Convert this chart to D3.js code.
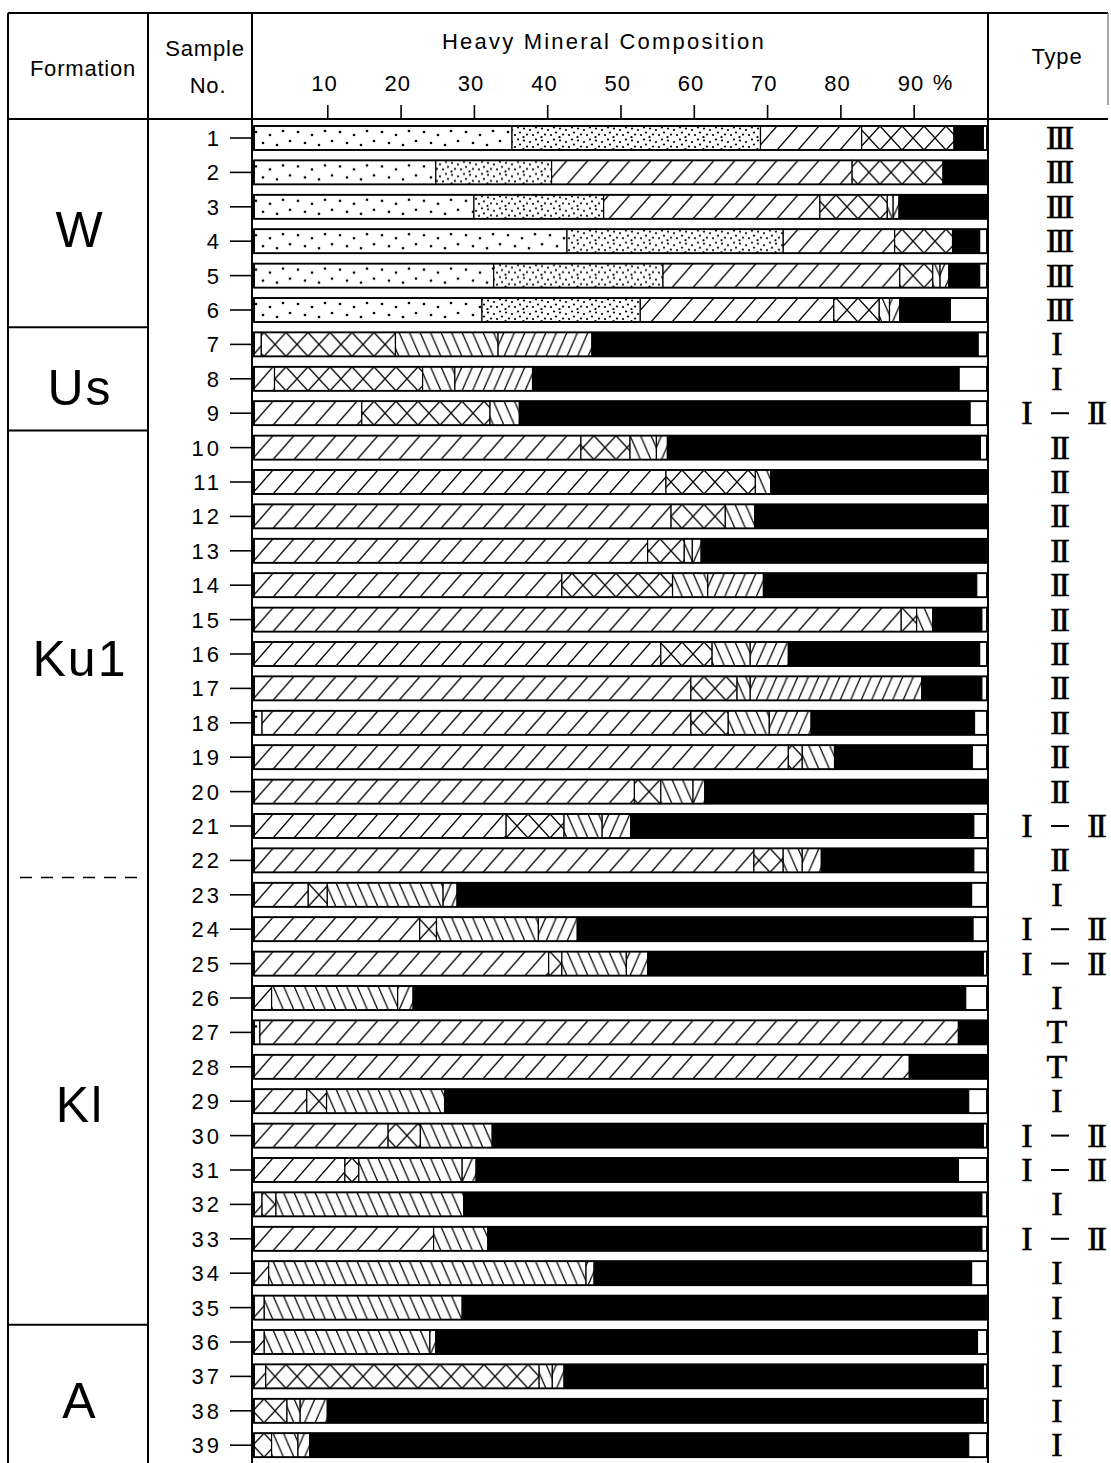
<!DOCTYPE html>
<html>
<head>
<meta charset="utf-8">
<script src="https://cdn.jsdelivr.net/npm/d3@7"></script>
<style>
  body { margin: 0; background: #fff; }
  svg { display: block; }
</style>
</head>
<body>
<svg id="chart" width="1111" height="1463"></svg>
<script>
// ---- data ----
var samples = d3.range(1, 40);

var formationNames = ["W", "Us", "Ku1", "Kl", "A"];
var formationFirst = [1, 7, 10, 23, 36];
var formationLast  = [6, 9, 22, 35, 39];

var types = ["III","III","III","III","III","III","I","I","I-II",
  "II","II","II","II","II","II","II","II","II","II","II",
  "I-II","II","I","I-II","I-II","I","T","T","I","I-II","I-II","I","I-II",
  "I","I","I","I","I","I"];

var tickValues = [10, 20, 30, 40, 50, 60, 70, 80, 90];

// percent of each component (white remainder = 100 - sum)
var sparseDots = [35.2,24.8,30.0,42.7,32.7,31.1,0,0,0,0,0,0,0,0,0,0,0,1.1,0,0,
  0,0,0,0,0,0,0.8,0,0,0,0,0,0,0,0,0,0,0,0];
var denseDots  = [33.9,15.8,17.7,29.5,23.1,21.6,0,0,0,0,0,0,0,0,0,0,0,0,0,0,
  0,0,0,0,0,0,0,0,0,0,0,0,0,0,0,0,0,0,0];
var wideSlash  = [13.8,41.0,29.5,15.2,32.3,26.4,1.0,2.8,14.7,44.6,56.2,56.9,53.7,42.0,88.3,55.5,59.6,58.5,72.9,51.9,
  34.4,68.2,7.4,22.6,40.2,2.4,95.3,89.4,7.2,18.3,12.4,1.1,24.5,2.0,1.4,1.4,1.6,0,0];
var crossHatch = [12.6,12.4,9.2,7.9,4.5,6.2,18.3,20.2,17.5,6.7,12.2,7.4,5.0,15.1,2.1,7.0,6.3,5.1,1.9,3.6,
  7.9,4.0,2.6,2.3,1.8,0,0,0,2.7,4.4,1.9,1.9,0,0,0,0,37.3,4.5,2.4];
var backSlash  = [0,0,0.8,0,1.0,1.4,14.0,4.4,4.0,3.6,2.1,4.0,1.1,4.8,2.2,5.2,1.8,5.6,4.4,4.4,
  5.2,2.6,15.8,13.9,8.8,17.2,0,0,16.1,9.8,14.1,25.6,7.4,43.3,27.0,22.6,1.8,1.8,3.6];
var fineSlash  = [0,0,0.8,0,1.2,1.4,12.8,10.6,0,1.5,0,0,1.2,7.6,0,5.2,23.4,5.7,0,1.6,
  3.9,2.6,1.9,5.3,2.9,2.1,0,0,0,0,1.9,0,0,1.1,0,0.8,1.6,3.7,1.6];
var opaque     = [4.0,5.8,12.0,3.7,4.2,6.9,52.7,58.2,61.5,42.7,29.5,31.7,38.8,29.1,6.7,26.1,8.2,22.3,18.8,38.5,
  46.8,20.8,70.2,54.0,45.8,75.4,3.9,10.6,71.5,67.0,65.8,70.7,67.4,51.5,71.4,73.9,57.2,89.5,89.9];

// ---- setup ----
var svg = d3.select("#chart");
var sans = "'Liberation Sans', Arial, Helvetica, sans-serif";
var serif = "'Liberation Serif', 'Times New Roman', serif";

var leftX = 8, colSample = 148, colChart = 252, colType = 988, rightX = 1108;
var topY = 13, headBottom = 119, bottomY = 1463;
var barH = 24;

var x = d3.scaleLinear().domain([0, 100]).range([254, 987]);
var y = d3.scalePoint().domain(samples).range([138, 138 + 34.4 * 38]);

// ---- fill patterns ----
var defs = svg.append("defs");

function hatch(id, w, h, lines) {
  var p = defs.append("pattern")
    .attr("id", id)
    .attr("patternUnits", "userSpaceOnUse")
    .attr("width", w).attr("height", h);
  p.append("rect").attr("width", w).attr("height", h).attr("fill", "#fff");
  lines.forEach(function(l) {
    [-w, 0, w].forEach(function(off) {
      p.append("line")
        .attr("x1", l[0] + off).attr("y1", l[1])
        .attr("x2", l[2] + off).attr("y2", l[3])
        .attr("stroke", "#000").attr("stroke-width", 1.3);
    });
  });
}
function dots(id, w, h, r, pts) {
  var p = defs.append("pattern")
    .attr("id", id)
    .attr("patternUnits", "userSpaceOnUse")
    .attr("width", w).attr("height", h);
  p.append("rect").attr("width", w).attr("height", h).attr("fill", "#fff");
  pts.forEach(function(q) {
    p.append("circle").attr("cx", q[0]).attr("cy", q[1]).attr("r", r).attr("fill", "#000");
  });
}

dots("p-sparse", 42, 24, 1.35, [[4,6],[18,9],[31,5],[11,17],[25,19],[38,15]]);
dots("p-dense", 18, 12, 1.1, [[2,2.5],[8,4],[14,1.5],[5,8.5],[11,9],[16,6.5],[1.5,11]]);
hatch("p-slash", 21, 24, [[0, 24, 21, 0]]);
hatch("p-cross", 22, 24, [[0, 24, 22, 0], [0, 0, 22, 24]]);
hatch("p-back", 10.5, 24, [[0, 0, 10.5, 24]]);
hatch("p-fine", 10.5, 24, [[0, 24, 10.5, 0]]);

var keys = ["sparse", "dense", "slash", "cross", "back", "fine", "opaque", "other"];
var fills = {
  sparse: "url(#p-sparse)", dense: "url(#p-dense)", slash: "url(#p-slash)",
  cross: "url(#p-cross)", back: "url(#p-back)", fine: "url(#p-fine)",
  opaque: "#000", other: "#fff"
};

var table = samples.map(function(s, i) {
  var row = {
    sample: s,
    sparse: sparseDots[i], dense: denseDots[i], slash: wideSlash[i],
    cross: crossHatch[i], back: backSlash[i], fine: fineSlash[i], opaque: opaque[i]
  };
  var sum = sparseDots[i] + denseDots[i] + wideSlash[i] + crossHatch[i] + backSlash[i] + fineSlash[i] + opaque[i];
  row.other = Math.max(0, 100 - sum);
  return row;
});

var series = d3.stack().keys(keys)(table);

// ---- bars ----
var rows = svg.append("g")
  .selectAll("g")
  .data(table)
  .join("g")
  .attr("transform", function(d) { return "translate(0," + (y(d.sample) - barH / 2) + ")"; });

rows.each(function(d, i) {
  var g = d3.select(this);
  series.forEach(function(s) {
    var a = s[i][0], b = Math.min(100, s[i][1]);
    if (b - a <= 0) return;
    g.append("rect")
      .attr("x", x(a)).attr("y", 0)
      .attr("width", x(b) - x(a)).attr("height", barH)
      .attr("fill", fills[s.key])
      .attr("stroke", "#000").attr("stroke-width", 1.2);
  });
  g.append("rect")
    .attr("x", x(0)).attr("y", 0)
    .attr("width", x(100) - x(0)).attr("height", barH)
    .attr("fill", "none").attr("stroke", "#000").attr("stroke-width", 1.8);
});

// ---- table frame ----
var frame = svg.append("g").attr("stroke", "#000").attr("stroke-width", 2);
frame.append("line").attr("x1", leftX).attr("x2", rightX).attr("y1", topY).attr("y2", topY);
frame.append("line").attr("x1", leftX).attr("x2", rightX).attr("y1", headBottom).attr("y2", headBottom);
[leftX, colSample, colChart, colType].forEach(function(cx) {
  frame.append("line").attr("x1", cx).attr("x2", cx).attr("y1", topY).attr("y2", bottomY);
});
frame.append("line").attr("x1", rightX).attr("x2", rightX).attr("y1", topY).attr("y2", 105)
  .attr("stroke", "#888").attr("stroke-width", 1.5);

// formation separators
formationLast.slice(0, -1).forEach(function(last, i) {
  var sy = (y(last) + y(last + 1)) / 2;
  var ln = frame.append("line").attr("x1", leftX).attr("x2", colSample).attr("y1", sy).attr("y2", sy);
  if (formationNames[i] === "Ku1") {
    ln.attr("x1", leftX + 12).attr("x2", colSample - 4).attr("stroke-dasharray", "12,9").attr("stroke-width", 1.5);
  }
});

// ---- header ----
var head = svg.append("g").attr("font-family", sans).attr("font-size", 22).attr("fill", "#000");
head.append("text").attr("x", 83).attr("y", 76).attr("text-anchor", "middle")
  .attr("letter-spacing", 0.8).text("Formation");
head.append("text").attr("x", 205).attr("y", 56).attr("text-anchor", "middle")
  .attr("letter-spacing", 0.8).text("Sample");
head.append("text").attr("x", 208).attr("y", 93).attr("text-anchor", "middle")
  .attr("letter-spacing", 0.8).text("No.");
head.append("text").attr("x", 604).attr("y", 49).attr("text-anchor", "middle")
  .attr("letter-spacing", 2.2).text("Heavy Mineral Composition");
head.append("text").attr("x", 1057).attr("y", 64).attr("text-anchor", "middle")
  .attr("letter-spacing", 0.8).text("Type");

// percent axis
var axis = svg.append("g").attr("transform", "translate(0," + headBottom + ")")
  .call(d3.axisTop(x).tickValues(tickValues).tickSize(14).tickPadding(14).tickFormat(d3.format("d")));
axis.select(".domain").remove();
axis.selectAll(".tick line").attr("stroke", "#000").attr("stroke-width", 1.6);
axis.selectAll(".tick text")
  .attr("font-family", sans).attr("font-size", 22).attr("letter-spacing", 1)
  .attr("fill", "#000").attr("dx", "-0.15em");
head.append("text").attr("x", x(90) + 19).attr("y", 90).text("%");

// ---- sample numbers ----
var lab = svg.append("g").attr("font-family", sans).attr("font-size", 22).attr("fill", "#000");
samples.forEach(function(s) {
  lab.append("text").attr("x", 222).attr("y", y(s) + 8)
    .attr("text-anchor", "end").attr("letter-spacing", 3).text(s);
  lab.append("line").attr("x1", 230).attr("x2", colChart).attr("y1", y(s)).attr("y2", y(s))
    .attr("stroke", "#000").attr("stroke-width", 1.6);
});

// ---- formation names ----
formationNames.forEach(function(name, i) {
  var cy = (y(formationFirst[i]) + y(formationLast[i])) / 2;
  var shift = { W: 5, Us: 8, Ku1: 4, Kl: 3, A: 6 }[name];
  svg.append("text")
    .attr("x", 80).attr("y", cy + 18 + shift)
    .attr("text-anchor", "middle")
    .attr("font-family", sans).attr("font-size", 50).attr("letter-spacing", 2)
    .text(name);
});

// ---- type column ----
var tg = svg.append("g").attr("font-family", serif).attr("font-size", 34).attr("fill", "#000")
  .attr("stroke", "#000").attr("stroke-width", 0.6);
types.forEach(function(t, i) {
  var cy = y(samples[i]);
  if (t === "I-II") {
    tg.append("text").attr("x", 1027).attr("y", cy + 11).attr("text-anchor", "middle").text("I");
    tg.append("line").attr("x1", 1051).attr("x2", 1069).attr("y1", cy).attr("y2", cy)
      .attr("stroke-width", 2);
    tg.append("text").attr("x", 1094).attr("y", cy + 11).attr("text-anchor", "middle")
      .attr("letter-spacing", -3).attr("dx", 1.5).text("II");
  } else {
    tg.append("text").attr("x", 1057).attr("y", cy + 11).attr("text-anchor", "middle")
      .attr("letter-spacing", t.length > 1 ? -3 : 0).attr("dx", t.length > 1 ? 1.5 : 0).text(t);
  }
});
</script>
</body>
</html>
